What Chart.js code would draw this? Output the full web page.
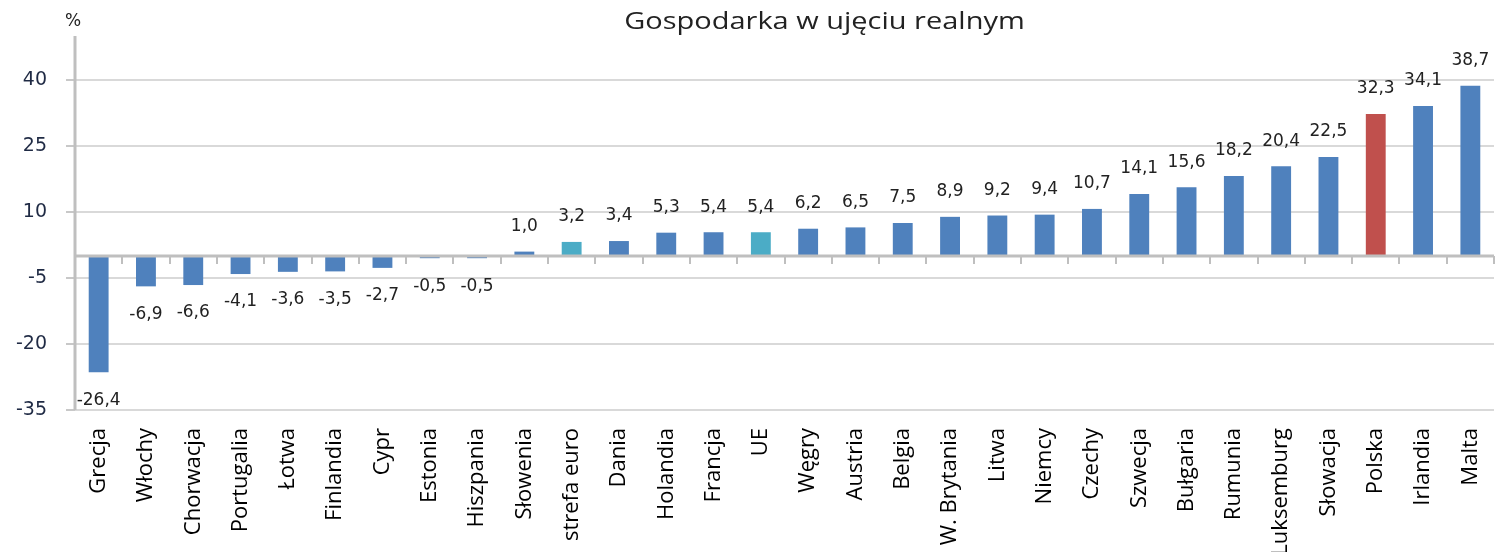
<!DOCTYPE html>
<html>
<head>
<meta charset="utf-8">
<script src="https://cdn.jsdelivr.net/npm/chart.js@4"></script>
<style>
  html, body { margin: 0; padding: 0; background: #fff; }
  #wrap { width: 1495px; height: 552px; position: relative; }
</style>
</head>
<body>
<div id="wrap"><canvas id="gdpChart"></canvas></div>
<script>
// dane z wykresu
const countries = ['Grecja', 'Włochy', 'Chorwacja', 'Portugalia', 'Łotwa', 'Finlandia', 'Cypr', 'Estonia', 'Hiszpania',
    'Słowenia', 'strefa euro', 'Dania', 'Holandia', 'Francja', 'UE', 'Węgry', 'Austria', 'Belgia', 'W. Brytania',
    'Litwa', 'Niemcy', 'Czechy', 'Szwecja', 'Bułgaria', 'Rumunia', 'Luksemburg', 'Słowacja', 'Polska', 'Irlandia', 'Malta'];
const growth = [-26.4, -6.9, -6.6, -4.1, -3.6, -3.5, -2.7, -0.5, -0.5,
    1.0, 3.2, 3.4, 5.3, 5.4, 5.4, 6.2, 6.5, 7.5, 8.9,
    9.2, 9.4, 10.7, 14.1, 15.6, 18.2, 20.4, 22.5, 32.3, 34.1, 38.7];
const yTicks = [-35, -20, -5, 0, 10, 25, 40];
const aggregates = ['strefa euro', 'UE'];
const home = 'Polska';

const title = 'Gospodarka w ujęciu realnym';
const unit = '%';

const barColors = countries.map(c => c === home ? '#c0504d' : (aggregates.includes(c) ? '#4bacc6' : '#4f81bd'));

// etykiety wartości nad/pod słupkami
const valueLabels = {
    id: 'valueLabels',
    afterDatasetsDraw(chart) {
        const ctx = chart.ctx;
        const meta = chart.getDatasetMeta(0);
        ctx.save();
        ctx.font = '17px "DejaVu Sans"';
        ctx.fillStyle = '#222';
        ctx.textAlign = 'center';
        ctx.textBaseline = 'middle';
        meta.data.forEach((bar, i) => {
            const v = growth[i];
            const txt = v.toFixed(1).replace('.', ',');
            const y = v >= 0 ? bar.y - 25 : bar.y + 28;
            ctx.fillText(txt, bar.x, y);
        });
        ctx.restore();
    }
};

// oś zero z kreskami, tytuł i jednostka
const extras = {
    id: 'extras',
    afterDraw(chart) {
        const ctx = chart.ctx;
        const x = chart.scales.x;
        const y = chart.scales.y;
        const area = chart.chartArea;
        const y0 = y.getPixelForValue(0);
        const step = x.width / countries.length;
        ctx.save();
        ctx.strokeStyle = '#bfbfbf';
        ctx.lineWidth = 3;
        ctx.beginPath();
        ctx.moveTo(area.left, y0);
        ctx.lineTo(area.right, y0);
        ctx.stroke();
        ctx.lineWidth = 2;
        for (let i = 1; i <= countries.length; i++) {
            const px = Math.round(x.getPixelForTick(i - 1) + step / 2);
            ctx.beginPath();
            ctx.moveTo(px, y0);
            ctx.lineTo(px, y0 + 8);
            ctx.stroke();
        }
        // linia osi Y
        ctx.lineWidth = 3;
        ctx.beginPath();
        ctx.moveTo(area.left, area.top);
        ctx.lineTo(area.left, area.bottom);
        ctx.stroke();

        ctx.fillStyle = '#222';
        ctx.textBaseline = 'middle';
        ctx.textAlign = 'center';
        ctx.font = '23px "Open Sans"';
        // tytuł trochę rozciągnięty w poziomie, jak w oryginale
        ctx.save();
        ctx.translate((area.left + area.right) / 2 + 40, 22);
        ctx.scale(1.26, 1);
        ctx.fillText(title, 0, 0);
        ctx.restore();
        ctx.font = '17px "DejaVu Sans"';
        ctx.fillText(unit, area.left - 2, 22);
        ctx.restore();
    }
};

const ctx = document.getElementById('gdpChart').getContext('2d');
const gdpChart = new Chart(ctx, {
    type: 'bar',
    data: {
        labels: countries,
        datasets: [{
            data: growth,
            backgroundColor: barColors,
            barPercentage: 0.42,
            categoryPercentage: 1.0
        }]
    },
    options: {
        responsive: true,
        maintainAspectRatio: false,
        animation: false,
        layout: {padding: {top: 36, right: 1, left: 0, bottom: 0}},
        plugins: {
            legend: {display: false},
            tooltip: {enabled: false}
        },
        scales: {
            x: {
                grid: {display: false, drawTicks: false},
                border: {display: false},
                ticks: {
                    minRotation: 90,
                    maxRotation: 90,
                    autoSkip: false,
                    padding: 18,
                    color: '#000',
                    font: {family: 'Open Sans', size: 22}
                },
                afterFit: (scale) => {
                    scale.height = 142;
                    scale.paddingLeft = 0;
                    scale.paddingRight = 0;
                }
            },
            y: {
                min: -35,
                max: 50,
                afterBuildTicks: (scale) => { scale.ticks = yTicks.map(v => ({value: v})); },
                afterFit: (scale) => { scale.width = 75; },
                grid: {
                    color: (c) => c.tick && c.tick.value === 0 ? 'rgba(0,0,0,0)' : '#d9d9d9',
                    lineWidth: 2,
                    tickLength: 9,
                    tickColor: (c) => c.tick && c.tick.value === 0 ? 'rgba(0,0,0,0)' : '#c8c8c8'
                },
                border: {display: false},
                ticks: {
                    padding: 19,
                    color: '#1f2a44',
                    font: {family: 'DejaVu Sans', size: 19},
                    callback: (v) => v === 0 ? '' : v
                }
            }
        }
    },
    plugins: [valueLabels, extras]
});
</script>
</body>
</html>
